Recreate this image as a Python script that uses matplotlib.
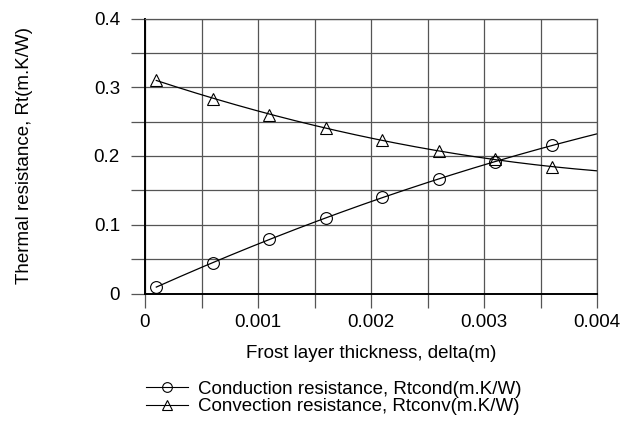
import numpy as np
import matplotlib
matplotlib.use('Agg')
import matplotlib.pyplot as plt

plt.rcParams['font.family'] = ['Liberation Sans', 'DejaVu Sans']

# data
delta = [0.0001, 0.0006, 0.0011, 0.0016, 0.0021, 0.0026, 0.0031, 0.0036]
rt_cond = [0.009, 0.045, 0.079, 0.110, 0.140, 0.166, 0.191, 0.216]
rt_conv = [0.311, 0.283, 0.260, 0.241, 0.223, 0.208, 0.195, 0.184]

x_ticks = [0, 0.001, 0.002, 0.003, 0.004]
x_labels = ['0', '0.001', '0.002', '0.003', '0.004']
y_ticks = [0, 0.1, 0.2, 0.3, 0.4]
y_labels = ['0', '0.1', '0.2', '0.3', '0.4']

# smooth trend lines through the points, extended to 0.004
xs = np.linspace(delta[0], 0.004, 200)
fit_cond = np.polyval(np.polyfit(delta, rt_cond, 2), xs)
fit_conv = np.polyval(np.polyfit(delta, rt_conv, 2), xs)

fig = plt.figure(figsize=(6.27, 4.21), dpi=100)
ax = fig.add_axes([145 / 627, 1 - 293.5 / 421, 452 / 627, 275 / 421])

ax.plot(xs, fit_cond, color='black', linewidth=0.9)
ax.plot(xs, fit_conv, color='black', linewidth=0.9)
ax.plot(delta, rt_cond, linestyle='none', marker='o', markersize=8.5,
        markerfacecolor='none', markeredgecolor='black', markeredgewidth=0.8)
ax.plot(delta, rt_conv, linestyle='none', marker='^', markersize=8.5,
        markerfacecolor='none', markeredgecolor='black', markeredgewidth=0.8)

# legend handles
h1, = ax.plot([], [], color='black', linewidth=0.8, marker='o', markersize=7,
              markerfacecolor='none', markeredgewidth=0.8)
h2, = ax.plot([], [], color='black', linewidth=0.8, marker='^', markersize=7,
              markerfacecolor='none', markeredgewidth=0.8)

ax.set_xlim(0, 0.004)
ax.set_ylim(0, 0.4)
ax.set_xticks(x_ticks)
ax.set_xticklabels(x_labels)
ax.set_xticks(np.arange(0.0005, 0.004, 0.001), minor=True)
ax.set_yticks(y_ticks)
ax.set_yticklabels(y_labels)
ax.set_yticks(np.arange(0.05, 0.4, 0.1), minor=True)

ax.grid(which='both', color='#555555', linewidth=0.9)
ax.set_axisbelow(True)
ax.tick_params(which='both', direction='out', length=10, width=0.9,
               color='#555555', labelsize=13.5)
ax.tick_params(axis='x', pad=5)
ax.tick_params(axis='y', pad=8)

for s in ['top', 'right']:
    ax.spines[s].set_color('#555555')
    ax.spines[s].set_linewidth(0.9)
for s in ['left', 'bottom']:
    ax.spines[s].set_color('black')
    ax.spines[s].set_linewidth(1.4)

ax.set_xlabel('Frost layer thickness, delta(m)', fontsize=13.5, labelpad=10)
ax.set_ylabel('Thermal resistance, Rt(m.K/W)', fontsize=13.5, labelpad=44)

fig.legend([h1, h2],
           ['Conduction resistance, Rtcond(m.K/W)',
            'Convection resistance, Rtconv(m.K/W)'],
           loc='center', bbox_to_anchor=(334 / 627, 1 - 398 / 421),
           frameon=False, fontsize=13.5, handlelength=2.2,
           handletextpad=0.55, labelspacing=0.02, borderpad=0)

plt.savefig('out.png', dpi=100)
